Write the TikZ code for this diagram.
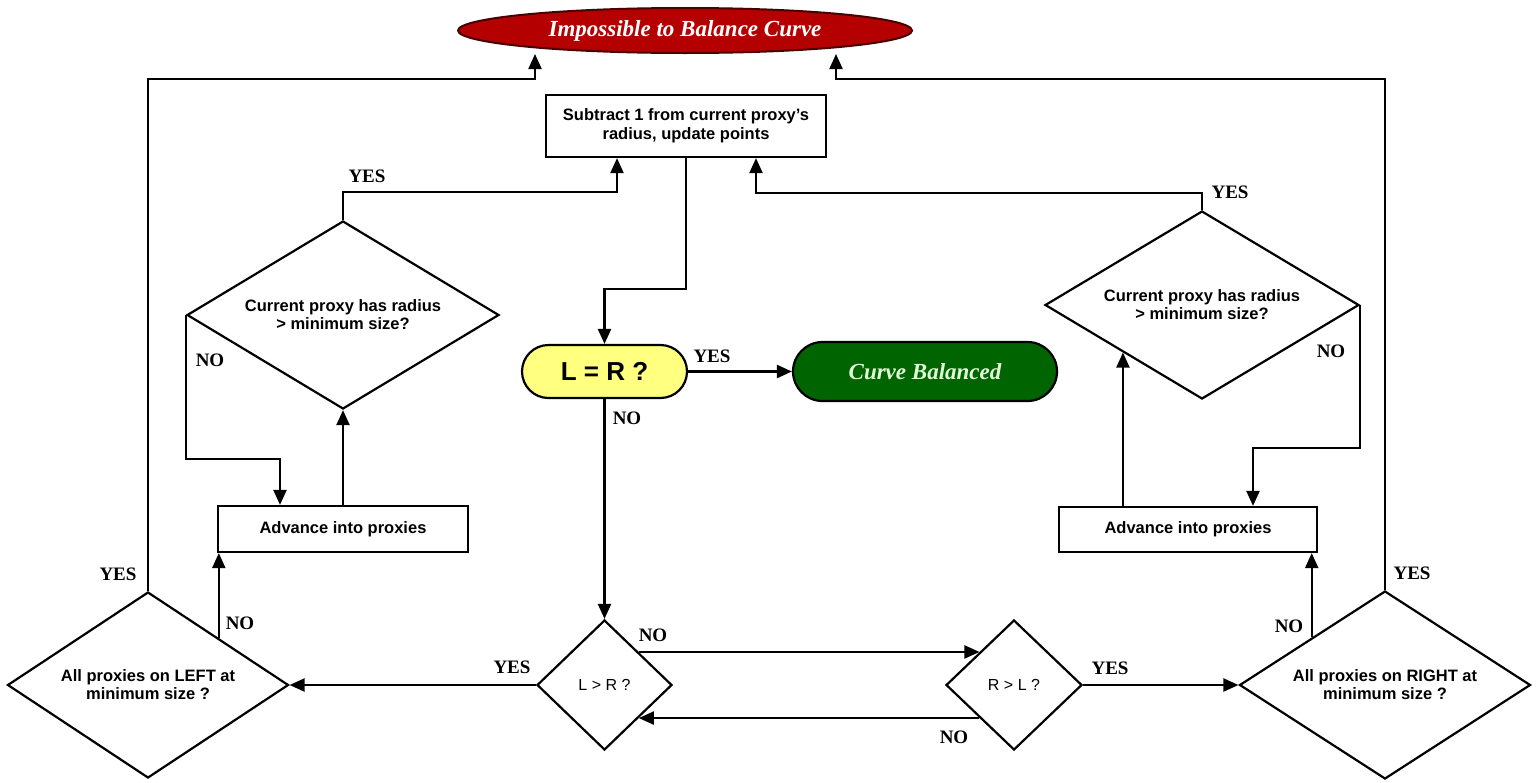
\documentclass[tikz,border=0pt]{standalone}
\usepackage{fontspec}
\setmainfont{Liberation Serif}
\setsansfont{Liberation Sans}
\usetikzlibrary{shapes.geometric,shapes.misc,arrows.meta}
\definecolor{impred}{RGB}{180,0,0}
\definecolor{balgreen}{RGB}{0,100,0}
\definecolor{baltext}{RGB}{225,250,215}
\definecolor{lryellow}{RGB}{255,255,128}
\tikzset{
  procbox/.style={draw, line width=2.2pt, inner sep=0pt, align=center,
    font=\sffamily\bfseries\fontsize{16.5}{19}\selectfont},
  decide/.style={diamond, draw, line width=2.2pt, inner sep=0pt, align=center,
    font=\sffamily\bfseries\fontsize{16.5}{18}\selectfont},
  smalldecide/.style={diamond, draw, line width=2.2pt, inner sep=0pt, align=center,
    font=\sffamily\fontsize{16}{18}\selectfont},
  terminal/.style={rounded rectangle, draw, line width=2.2pt, inner sep=0pt},
  lab/.style={font=\rmfamily\bfseries\fontsize{19}{19}\selectfont, inner sep=0pt},
  conn/.style={draw, line width=2.2pt, -{Triangle[length=15pt,width=13pt]}},
}
\begin{document}
\begin{tikzpicture}[x=1pt,y=-1pt]
\fill[white] (0,0) rectangle (1538,782);
\useasboundingbox (0,0) rectangle (1538,782);

% nodes
\node[ellipse, draw=black!60!impred, line width=2pt, fill=impred, minimum width=454pt, minimum height=45pt, inner sep=0pt,
      text=white, font=\rmfamily\bfseries\itshape\fontsize{23}{23}\selectfont] (imp) at (685,30.5) {Impossible to Balance Curve};
\node[procbox, minimum width=280pt, minimum height=62pt] (sub) at (686,126) {Subtract 1 from current proxy's\\radius, update points};
\node[terminal, fill=lryellow, minimum width=165pt, minimum height=53pt,
      font=\sffamily\bfseries\fontsize{26}{26}\selectfont] (lr) at (604.5,371.5) {L = R ?};
\node[terminal, fill=balgreen, minimum width=264pt, minimum height=59pt, text=baltext,
      font=\rmfamily\bfseries\itshape\fontsize{23}{23}\selectfont] (cb) at (925,371.5) {Curve Balanced};
\node[decide, aspect=1.66, minimum width=312pt, minimum height=188pt] (ldia) at (343,315) {Current proxy has radius\\> minimum size?};
\node[decide, aspect=1.66, minimum width=314pt, minimum height=188pt] (rdia) at (1202,305) {Current proxy has radius\\> minimum size?};
\node[procbox, minimum width=250pt, minimum height=46pt] (ladv) at (343,529) {Advance into proxies};
\node[procbox, minimum width=258pt, minimum height=45pt] (radv) at (1188,529.5) {Advance into proxies};
\node[decide, aspect=1.5, minimum width=281pt, minimum height=186pt] (lbig) at (148,685) {All proxies on LEFT at\\minimum size ?};
\node[decide, aspect=1.5, minimum width=291pt, minimum height=188pt] (rbig) at (1385,685) {All proxies on RIGHT at\\minimum size ?};
\node[smalldecide, minimum width=135pt, minimum height=130pt] (lgr) at (604.5,685) {L > R ?};
\node[smalldecide, minimum width=136pt, minimum height=130pt] (rgl) at (1014,685) {R > L ?};

% connectors
\draw[conn] (lbig.north) |- (535,79) -- (imp.south -| 535,0);
\draw[conn] (rbig.north) |- (836,79) -- (imp.south -| 836,0);
\draw[conn] (sub.south) -- ++(0,131) -| (lr.north);
\draw[conn] (lr.east) -- (cb.west);
\draw[conn] (lr.south) -- (lgr.north);
\draw[conn] (lgr.west) -- (lbig.east);
\draw[conn] (lgr.north east) -- (rgl.north west);
\draw[conn] (rgl.south west) -- (lgr.south east);
\draw[conn] (rgl.east) -- (rbig.west);
\draw[conn] (lbig.north east) -- (lbig.north east |- ladv.south);
\draw[conn] (rbig.north west) -- (rbig.north west |- radv.south);
\draw[conn] (ladv.north) -- (ldia.south);
\draw[conn] (ldia.west) -- ++(0,144) -| ([xshift=-63pt]ladv.north);
\draw[conn] (ldia.north) -- ++(0,-28) -| ([xshift=-69pt]sub.south);
\draw[conn] (rdia.north) -- ++(0,-17) -| ([xshift=70pt]sub.south);
\draw[conn] (rdia.east) -- ++(0,143) -| ([xshift=65pt]radv.north);
\draw[conn] (radv.north -| rdia.south west) -- (rdia.south west);

% labels
\node[lab] (l1) at (367,176) {YES};
\node[lab] (l2) at (210,360) {NO};
\node[lab] (l3) at (627,418) {NO};
\node[lab] (l4) at (712,356) {YES};
\node[lab] (l5) at (1230,192) {YES};
\node[lab] (l6) at (1331,351) {NO};
\node[lab] (l7) at (118,574) {YES};
\node[lab] (l8) at (240,623) {NO};
\node[lab] (l9) at (512,667) {YES};
\node[lab] (l10) at (653,635) {NO};
\node[lab] (l11) at (1110,668) {YES};
\node[lab] (l12) at (954,737) {NO};
\node[lab] (l13) at (1289,626) {NO};
\node[lab] (l14) at (1412,573) {YES};
\end{tikzpicture}
\end{document}
